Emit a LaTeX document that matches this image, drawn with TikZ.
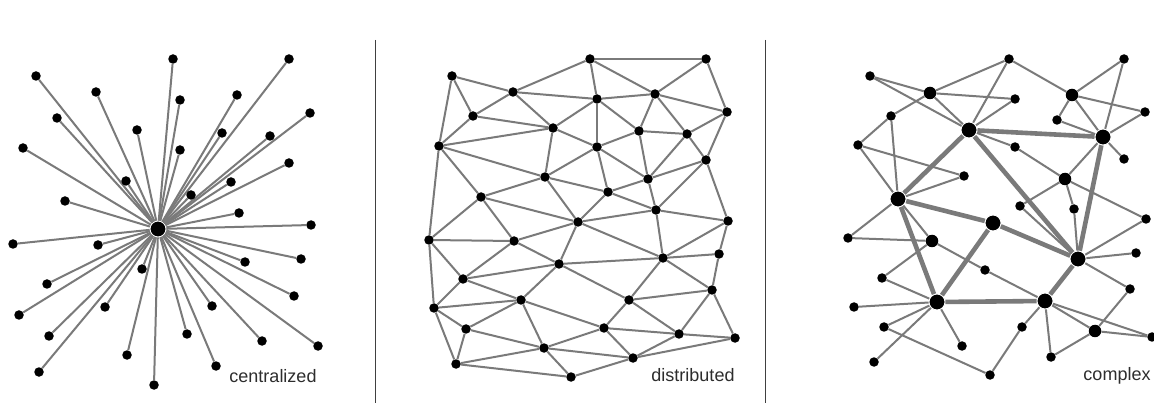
\documentclass[tikz,border=0pt]{standalone}
\usepackage{fontspec}
\setmainfont{Liberation Sans}
\definecolor{linkcolor}{RGB}{122,122,122}
\definecolor{labelcolor}{RGB}{45,45,45}
\tikzset{
  dotnd/.style={circle, fill=black, inner sep=0pt, minimum size=9.5pt},
  midnd/.style={dotnd, minimum size=12.5pt},
  hubnd/.style={dotnd, minimum size=16pt, draw=white, line width=0.9pt},
  linkln/.style={linkcolor, line width=2pt},
  heavyln/.style={linkcolor, line width=4.6pt},
  sepln/.style={line width=1pt, black!75},
  tagtxt/.style={font=\fontsize{18}{20}\selectfont, labelcolor},
}

\begin{document}
\begin{tikzpicture}[x=1pt, y=-1pt]
  \useasboundingbox (0,0) rectangle (1154,403);
  \fill[white] (0,0) rectangle (1154,403);
  \coordinate (sepa top) at (375,40);
  \coordinate (sepa bot) at (375,403);
  \coordinate (sepb top) at (765,40);
  \coordinate (sepb bot) at (765,403);
  \draw[sepln] (sepa top) -- (sepa bot);
  \draw[sepln] (sepb top) -- (sepb bot);

  % centralized
  \node[hubnd] (hub) at (158,229) {};
  \foreach \x/\y [count=\i] in {36/76, 173/59, 289/59, 96/92, 180/100, 237/95,
      57/118, 310/113, 137/130, 23/148, 180/150, 222/133, 270/136, 289/163,
      126/181, 231/182, 191/195, 65/201, 239/213, 13/244, 98/245, 311/225,
      142/269, 47/284, 245/262, 301/259, 19/315, 105/307, 212/306, 294/296,
      49/336, 127/355, 187/334, 262/341, 318/346, 39/372, 154/385, 216/366} {
    \node[dotnd] (l\i) at (\x,\y) {};
    \draw[linkln] (hub) -- (l\i);
  }
  \node[tagtxt] (tagc) at (273,376) {centralized};

  % distributed
  \foreach \n/\x/\y in {m1/452/76, m2/513/92, m3/590/59, m4/706/59,
      m5/473/116, m6/553/128, m7/597/99, m8/655/94, m9/727/112, m10/439/146,
      m11/639/131, m12/687/134, m13/597/147, m14/545/177, m15/706/160,
      m16/481/197, m17/648/179, m18/608/192, m19/578/222, m20/656/210,
      m21/728/221, m22/429/240, m23/514/241, m24/559/264, m25/663/258,
      m26/719/254, m27/463/279, m28/712/290, m29/521/300, m30/629/300,
      m31/434/308, m32/604/328, m33/466/329, m34/679/334, m35/735/338,
      m36/544/348, m37/633/358, m38/456/364, m39/571/377}
    \node[dotnd] (\n) at (\x,\y) {};
  \foreach \a/\b in {m1/m2, m1/m5, m1/m10, m2/m3, m2/m5, m2/m6, m2/m7,
      m3/m4, m3/m7, m3/m8, m4/m8, m4/m9, m5/m6, m5/m10, m6/m7, m6/m10,
      m6/m13, m6/m14, m7/m8, m7/m11, m7/m13, m8/m9, m8/m11, m8/m12,
      m9/m12, m9/m15, m10/m14, m10/m16, m10/m22, m11/m12, m11/m13, m11/m17,
      m12/m15, m12/m17, m13/m14, m13/m17, m13/m18, m14/m16, m14/m18,
      m14/m19, m15/m17, m15/m20, m15/m21, m16/m19, m16/m22, m16/m23,
      m17/m18, m17/m20, m18/m19, m18/m20, m19/m20, m19/m23, m19/m24,
      m19/m25, m20/m21, m20/m25, m21/m25, m21/m26, m22/m23, m22/m27,
      m22/m31, m23/m24, m23/m27, m24/m25, m24/m27, m24/m29, m24/m30,
      m25/m26, m25/m28, m25/m30, m26/m28, m27/m29, m27/m31, m28/m30,
      m28/m34, m28/m35, m29/m31, m29/m32, m29/m33, m29/m36, m30/m32,
      m30/m34, m31/m33, m31/m38, m32/m34, m32/m36, m32/m37, m33/m36,
      m33/m38, m34/m35, m34/m37, m35/m37, m36/m37, m36/m38, m36/m39,
      m37/m39, m38/m39}
    \draw[linkln] (\a) -- (\b);
  \node[tagtxt] (tagd) at (693,375) {distributed};

  % complex
  \foreach \n/\x/\y in {c1/870/76, c3/1009/59, c4/1124/59, c5/891/116,
      c7/1015/99, c9/1057/120, c11/858/145, c12/1015/147, c13/1124/159,
      c14/964/176, c17/1020/206, c18/1074/209, c19/1146/219, c21/848/238,
      c23/1136/253, c25/882/278, c26/985/270, c27/1130/289, c30/854/307,
      c31/884/327, c32/1022/327, c34/1152/337, c35/962/346, c36/1051/357,
      c37/874/362, c38/990/375, c39/1145/112}
    \node[dotnd] (\n) at (\x,\y) {};
  \foreach \n/\x/\y in {c2/930/93, c6/1072/95, c15/1065/179, c22/932/241,
      c33/1095/331}
    \node[midnd] (\n) at (\x,\y) {};
  \foreach \n/\x/\y in {c8/969/130, c10/1103/137, c16/898/199, c20/993/223,
      c24/1078/259, c28/937/302, c29/1045/301}
    \node[hubnd] (\n) at (\x,\y) {};
  \foreach \a/\b in {c1/c2, c1/c8, c2/c8, c2/c3, c2/c7, c2/c5, c5/c11,
      c5/c16, c11/c14, c11/c16, c8/c3, c8/c7, c8/c12, c14/c16, c16/c21,
      c16/c22, c3/c6, c4/c6, c4/c10, c6/c9, c6/c10, c6/c39, c9/c10,
      c10/c39, c10/c13, c10/c15, c12/c15, c15/c17, c15/c18, c15/c19,
      c17/c24, c18/c24, c19/c24, c21/c22, c22/c26, c22/c25, c25/c28,
      c30/c28, c31/c28, c31/c38, c35/c28, c37/c28, c26/c29, c38/c32,
      c24/c23, c24/c27, c27/c33, c29/c32, c29/c33, c29/c34, c29/c36,
      c33/c34, c33/c36}
    \draw[linkln] (\a) -- (\b);
  \foreach \a/\b in {c8/c10, c8/c16, c8/c24, c16/c20, c16/c28, c20/c24,
      c20/c28, c28/c29, c29/c24, c10/c24}
    \draw[heavyln] (\a) -- (\b);
  \node[tagtxt] (tagx) at (1117,376) {complex};
\end{tikzpicture}
\end{document}
